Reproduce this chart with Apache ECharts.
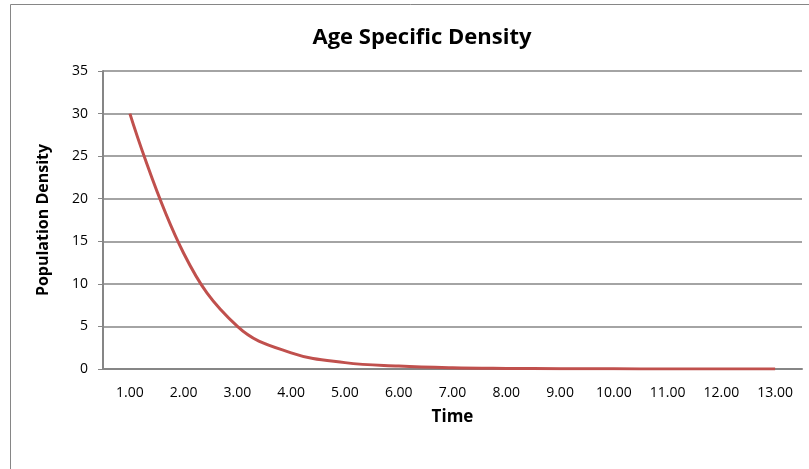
<!DOCTYPE html>
<html>
<head>
<meta charset="utf-8">
<title>Age Specific Density</title>
<script src="https://cdn.jsdelivr.net/npm/echarts@6/dist/echarts.min.js"></script>
<style>
  html, body { margin: 0; padding: 0; background: #ffffff; }
  #chart { width: 809px; height: 469px; }
</style>
</head>
<body>
<div id="chart"></div>
<script>
// Time steps shown on the category axis
const timeLabels = ['1.00', '2.00', '3.00', '4.00', '5.00', '6.00', '7.00',
                    '8.00', '9.00', '10.00', '11.00', '12.00', '13.00'];
// Population density at each time step
const densityValues = [30, 13.6, 5.0, 1.9, 0.75, 0.35, 0.15, 0.07, 0.03, 0.015, 0.008, 0.004, 0.002];
// Value axis ticks
const yTicks = [0, 5, 10, 15, 20, 25, 30, 35];

const FONT = '"Open Sans", "Noto Sans", sans-serif';
const GRAY = '#868686';

const chart = echarts.init(document.getElementById('chart'), null, { renderer: 'canvas' });

chart.setOption({
  animation: false,
  backgroundColor: '#ffffff',
  title: {
    text: 'Age Specific Density',
    left: 417,
    top: 22,
    textAlign: 'center',
    textStyle: { fontFamily: FONT, fontSize: 22, fontWeight: 'bold', color: '#000000' }
  },
  graphic: [{
    type: 'rect',
    shape: { x: 10.5, y: 4.5, width: 900, height: 600 },
    style: { fill: 'none', stroke: GRAY, lineWidth: 1 },
    silent: true,
    z: 0
  }],
  grid: { left: 103, right: 7, top: 71, bottom: 100, containLabel: false },
  xAxis: {
    type: 'category',
    data: timeLabels,
    boundaryGap: true,
    name: 'Time',
    nameLocation: 'middle',
    nameGap: 40,
    nameTextStyle: { fontFamily: FONT, fontSize: 17, fontWeight: 'bold', color: '#000000' },
    axisLine: { lineStyle: { color: GRAY, width: 2 } },
    axisTick: { show: false },
    axisLabel: { fontFamily: FONT, fontSize: 14, color: '#000000', margin: 17 },
    splitLine: { show: false }
  },
  yAxis: {
    type: 'value',
    min: yTicks[0],
    max: yTicks[yTicks.length - 1],
    interval: yTicks[1] - yTicks[0],
    name: 'Population Density',
    nameLocation: 'middle',
    nameGap: 52,
    nameTextStyle: { fontFamily: FONT, fontSize: 16, fontWeight: 'bold', color: '#000000' },
    axisLine: { show: true, lineStyle: { color: GRAY, width: 2 } },
    axisTick: { show: true, length: 5, lineStyle: { color: GRAY, width: 1 } },
    axisLabel: { fontFamily: FONT, fontSize: 14, color: '#000000', margin: 15 },
    splitLine: { show: true, lineStyle: { color: GRAY, width: 1.5 } }
  },
  series: [{
    type: 'line',
    data: densityValues,
    smooth: 0.4,
    symbol: 'none',
    lineStyle: { color: '#C0504D', width: 3 },
    z: 3
  }]
});
</script>
</body>
</html>
